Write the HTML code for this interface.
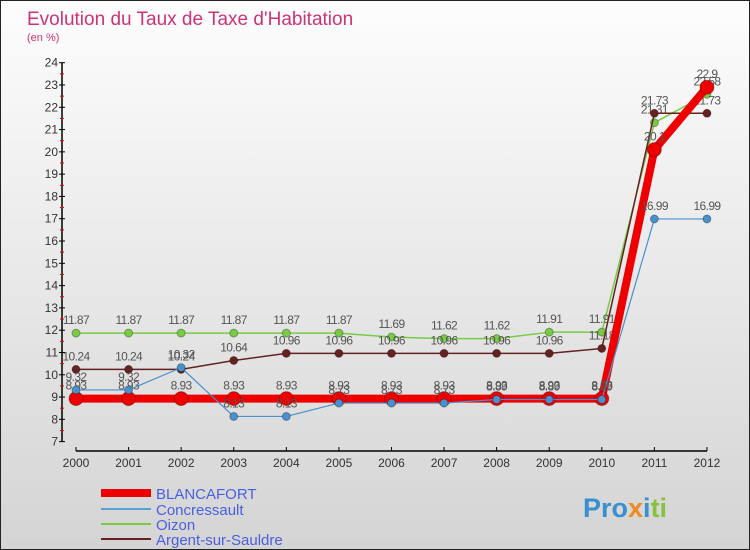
<!DOCTYPE html>
<html><head><meta charset="utf-8"><style>
body{margin:0}
#c{position:relative;width:748px;height:548px;border:1px solid #222;background:linear-gradient(#fdfdfd,#d4d4d4);overflow:hidden;font-family:"Liberation Sans",sans-serif}
</style></head><body>
<div id="c">
<svg id="s" width="748" height="548" style="position:absolute;left:0;top:0" font-family="Liberation Sans, sans-serif">
<text x="26" y="24" font-size="19" font-weight="300" fill="#cc3377">Evolution du Taux de Taxe d'Habitation</text>
<text x="26" y="40" font-size="11" fill="#cc3377">(en %)</text>
<g id="g"></g>
<g font-size="15" fill="#4a5fe0">
<line x1="100" y1="492" x2="150" y2="492" stroke="#ee0000" stroke-width="8"/>
<text x="155" y="498">BLANCAFORT</text>
<line x1="100" y1="508" x2="150" y2="508" stroke="#5b9fd6" stroke-width="2"/>
<text x="155" y="514">Concressault</text>
<line x1="100" y1="523" x2="150" y2="523" stroke="#77cc44" stroke-width="2"/>
<text x="155" y="529">Oizon</text>
<line x1="100" y1="538" x2="150" y2="538" stroke="#662222" stroke-width="2"/>
<text x="155" y="544">Argent-sur-Sauldre</text>
</g>
<text x="582" y="516" font-size="27" font-weight="bold"><tspan fill="#3a8fd0">Pro</tspan><tspan fill="#f08a20">x</tspan><tspan fill="#3a8fd0">i</tspan><tspan fill="#88c040">ti</tspan></text>
</svg>
</div>
<script>
const years=[2000,2001,2002,2003,2004,2005,2006,2007,2008,2009,2010,2011,2012];
const blancafort=[8.93,8.93,8.93,8.93,8.93,8.93,8.93,8.93,8.93,8.93,8.93,20.1,22.9];
const concressault=[9.32,9.32,10.32,8.13,8.13,8.73,8.73,8.73,8.89,8.89,8.89,16.99,16.99];
const oizon=[11.87,11.87,11.87,11.87,11.87,11.87,11.69,11.62,11.62,11.91,11.91,21.31,22.58];
const argent=[10.24,10.24,10.24,10.64,10.96,10.96,10.96,10.96,10.96,10.96,11.18,21.73,21.73];
const yTicks=[7,8,9,10,11,12,13,14,15,16,17,18,19,20,21,22,23,24];
const NS="http://www.w3.org/2000/svg";
const g=document.getElementById('g');
const x=i=>75+i*52.58;
const y=v=>61.7+(24-v)*22.29;
function mk(t,a,p){const e=document.createElementNS(NS,t);for(const k in a)e.setAttribute(k,a[k]);(p||g).appendChild(e);return e;}
let ax=mk('line',{x1:61,y1:y(24),x2:61,y2:y(7),stroke:'#000','stroke-width':1.5});


let bx=mk('line',{x1:75,y1:450,x2:706,y2:450,stroke:'#000','stroke-width':1.5});


yTicks.forEach(v=>{
  mk('line',{x1:58,y1:y(v),x2:64,y2:y(v),stroke:'#000'});
  if(v<24)mk('line',{x1:59,y1:y(v+0.5),x2:63,y2:y(v+0.5),stroke:'#e00'});
  const t=mk('text',{x:57,y:y(v)+4,'text-anchor':'end','font-size':12,fill:'#333'});
  t.textContent=v;
  
  
});
years.forEach((yr,i)=>{
  mk('line',{x1:x(i),y1:446,x2:x(i),y2:450,stroke:'#000'});
  const t=mk('text',{x:x(i),y:466,'text-anchor':'middle','font-size':12,fill:'#333'});
  t.textContent=yr;
  
  
});
function series(d,color,w,r,name){
  const sg=mk('g',{});
  
  
  const pl=mk('polyline',{points:d.map((v,i)=>x(i)+','+y(v)).join(' '),fill:'none',stroke:color,'stroke-width':w,'stroke-linejoin':'round'},sg);
  
  d.forEach((v,i)=>{
    const c=mk('circle',{cx:x(i),cy:y(v),r:r,fill:color,stroke:'rgba(0,0,0,0.3)','stroke-width':1},sg);
    
    
    const t=mk('text',{x:x(i),y:y(v)-9,'text-anchor':'middle','font-size':12,fill:'#555','letter-spacing':'-0.6'},sg);
    t.textContent=v;
    
    
  });
}
series(oizon,'#77cc44',1.5,4,'oizon');
series(argent,'#662222',1.5,4,'argent');
series(blancafort,'#ee0000',8,7,'blancafort');
series(concressault,'#4a90cc',1.2,4,'concressault');
</script>
</body></html>
